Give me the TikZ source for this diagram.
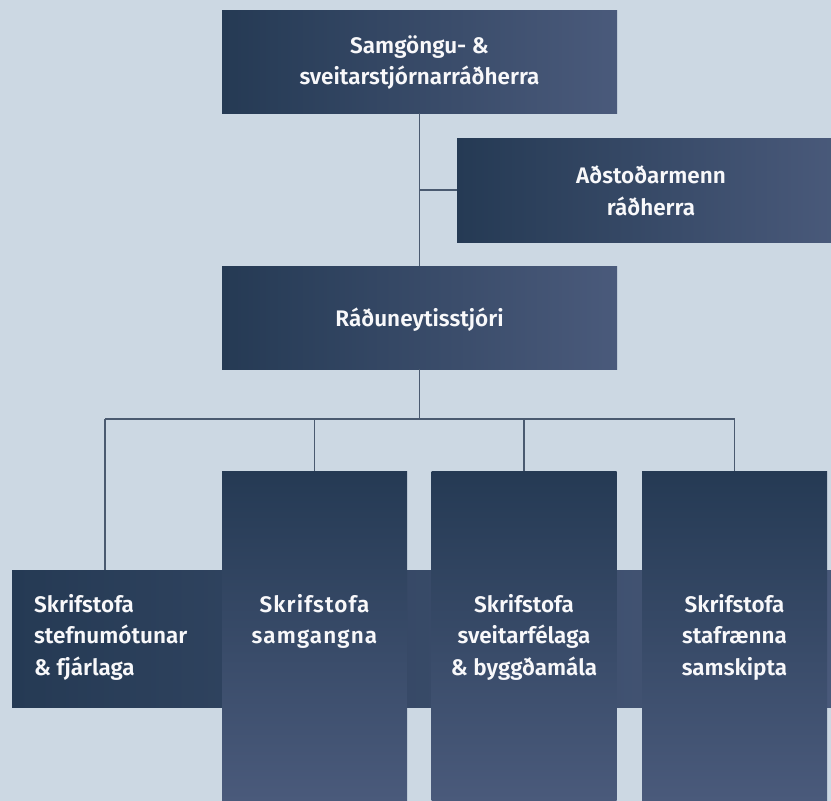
\documentclass[tikz,border=0pt]{standalone}
\usepackage{fontspec}
\setmainfont{Fira Sans}[UprightFont=* SemiBold]

\definecolor{pagebg}{HTML}{CCD8E3}
\definecolor{navydark}{HTML}{253A54}
\definecolor{navylight}{HTML}{4A5A7B}
\definecolor{wirecol}{HTML}{4A5A70}

\tikzset{
  hbox/.style={minimum width=#1, minimum height=103pt, inner sep=0pt,
    left color=navydark, right color=navylight},
  vbox/.style={minimum width=185pt, minimum height=330pt, inner sep=0pt,
    top color=navydark, bottom color=navylight},
  label/.style={text=white!96!navylight, font=\fontsize{22.5}{31.5}\selectfont, align=center, inner sep=0pt},
  wire/.style={wirecol, line width=1.1pt}
}

\begin{document}
\begin{tikzpicture}[x=1pt, y=-1pt]
    \useasboundingbox (0, 0) rectangle (831, 801);
    \clip (0, 0) rectangle (831, 801);
    \fill [pagebg] (0, 0) rectangle (831, 801);

    \coordinate (B0) at (419.5, 419);
    \coordinate (B1) at (105, 419);
    \coordinate (B2) at (314.5, 419);
    \coordinate (B3) at (524, 419);
    \coordinate (B4) at (734.5, 419);

    % boxes
    \node [hbox=395pt] (minister) at (419.5, 61.5) {};
    \node [hbox=388pt, minimum height=104pt] (assist) at (651, 190) {};
    \node [hbox=395pt] (secgen) at (419.5, 317.5) {};
    \node [hbox=833pt, minimum height=137pt] (policy) at (428.5, 638.5) {};
    \node [vbox] (transport) at (314.5, 636) {};
    \node [vbox] (municip) at (524, 636) {};
    \node [vbox] (digital) at (734.5, 636) {};

    % texts
    \node [label] (ministerT) at ([yshift=-1pt]minister) {Samgöngu- \&\\sveitarstjórnarráðherra};
    \node [label] (assistT) at ([yshift=-1pt]assist) {Aðstoðarmenn\\ráðherra};
    \node [label] (secgenT) at ([yshift=-2pt]secgen) {Ráðuneytisstjóri};
    \node [label, align=left, anchor=north west] (policyT) at (34, 594) {Skrifstofa\\stefnumótunar\\\& fjárlaga};
    \node [label, anchor=north] (transportT) at (transport |- policyT.north) {\addfontfeature{LetterSpace=5}Skrifstofa\\\addfontfeature{LetterSpace=5}samgangna};
    \node [label, anchor=north] (municipT) at (municip |- policyT.north) {Skrifstofa\\sveitarfélaga\\\& byggðamála};
    \node [label, anchor=north] (digitalT) at (digital |- policyT.north) {Skrifstofa\\stafrænna\\samskipta};

    % connectors
    \draw [wire] (minister.south) -- (secgen.north);
    \draw [wire] (assist.west -| minister.south) -- (assist.west);
    \draw [wire] (secgen.south) -- (B0);
    \draw [wire] (B1) -- (B4);
    \draw [wire] (B1) -- (B1 |- policy.north);
    \draw [wire] (B2) -- (transport.north);
    \draw [wire] (B3) -- (municip.north);
    \draw [wire] (B4) -- (digital.north);
  \end{tikzpicture}
\end{document}
